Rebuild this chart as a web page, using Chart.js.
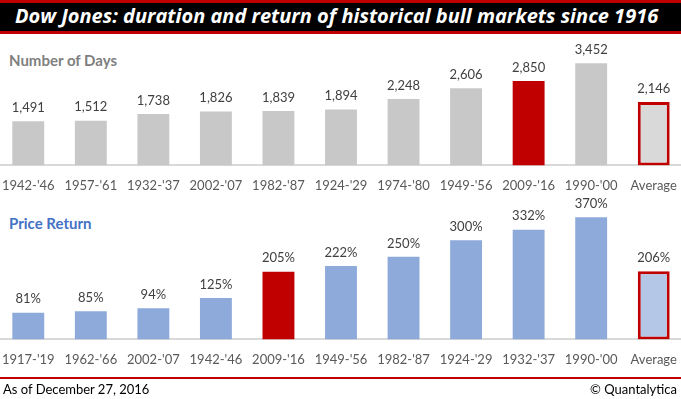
<!DOCTYPE html>
<html>
<head>
<meta charset="utf-8">
<script src="https://cdn.jsdelivr.net/npm/chart.js@4"></script>
<style>
  html, body { margin: 0; padding: 0; width: 681px; height: 399px; overflow: hidden; background: #fff; font-family: Lato, sans-serif; }
  .title-bar { position: absolute; left: 0; top: 0; width: 681px; height: 28px; background: #000; border-top: 3px solid #c00000; border-bottom: 3px solid #c00000; }
  .title-bar span { position: absolute; left: 15px; top: -1px; color: #fff; font: italic bold 20px 'Open Sans', sans-serif; white-space: nowrap; }
  .section { position: absolute; left: 9px; font: bold 15px Lato, sans-serif; }
  .chart-box { position: absolute; left: -3px; width: 688px; }
  .footer-line { position: absolute; left: 0; top: 377px; width: 681px; height: 2px; background: #c00000; }
  .footer { position: absolute; top: 381px; font: 13px Lato, sans-serif; color: #000; }
</style>
</head>
<body>
<div class="title-bar"><span>Dow Jones: duration and return of historical bull markets since 1916</span></div>
<div class="section" style="top:51px;color:#808080">Number of Days</div>
<div class="section" style="top:214px;color:#4472c4">Price Return</div>
<div class="chart-box" style="top:20px;height:174px"><canvas id="daysChart"></canvas></div>
<div class="chart-box" style="top:184px;height:184px"><canvas id="returnChart"></canvas></div>
<div class="footer-line"></div>
<div class="footer" style="left:3px">As of December 27, 2016</div>
<div class="footer" style="right:4px">© Quantalytica</div>
<script>
// Dow Jones bull markets — duration (days) and price return (%)

const DAYS_LABELS = ["1942-'46", "1957-'61", "1932-'37", "2002-'07", "1982-'87", "1924-'29", "1974-'80", "1949-'56", "2009-'16", "1990-'00", 'Average'];
const DAYS_VALUES = [1491, 1512, 1738, 1826, 1839, 1894, 2248, 2606, 2850, 3452, 2146];

const RETURN_LABELS = ["1917-'19", "1962-'66", "2002-'07", "1942-'46", "2009-'16", "1949-'56", "1982-'87", "1924-'29", "1932-'37", "1990-'00", 'Average'];
const RETURN_VALUES = [81, 85, 94, 125, 205, 222, 250, 300, 332, 370, 206];

const CURRENT = "2009-'16";

const COLORS = {
  gray: '#c8c8c8',
  grayLight: '#d9d9d9',
  blue: '#8eaadb',
  blueLight: '#b4c7e7',
  red: '#c00000',
  axis: '#d9d9d9',
  tick: '#595959',
  value: '#404040',
};

// draws the value above each bar, using the bar element positions
const valueLabels = {
  id: 'valueLabels',
  afterDatasetsDraw(chart, args, opts) {
    const ctx = chart.ctx;
    const meta = chart.getDatasetMeta(0);
    ctx.save();
    ctx.font = '13px Lato, sans-serif';
    ctx.fillStyle = COLORS.value;
    ctx.textAlign = 'center';
    ctx.textBaseline = 'bottom';
    meta.data.forEach((bar, i) => {
      ctx.fillText(opts.format(chart.data.datasets[0].data[i]), bar.x, bar.y - 7);
    });
    ctx.restore();
  },
};

function makeChart(id, labels, values, base, light, yMax, format) {
  const isAvg = labels.map(l => l === 'Average');
  return new Chart(document.getElementById(id), {
    type: 'bar',
    data: {
      labels,
      datasets: [{
        data: values,
        backgroundColor: labels.map((l, i) => l === CURRENT ? COLORS.red : isAvg[i] ? light : base),
        borderColor: COLORS.red,
        borderWidth: isAvg.map(a => a ? 3 : 0),
        borderSkipped: false,
        barPercentage: 0.51,
        categoryPercentage: 1,
      }],
    },
    options: {
      responsive: true,
      maintainAspectRatio: false,
      animation: false,
      layout: { padding: { top: 16, left: 0, right: 0, bottom: 0 } },
      plugins: {
        legend: { display: false },
        tooltip: { enabled: false },
        valueLabels: { format },
      },
      scales: {
        x: {
          // tick marks hidden but their length spaces the labels off the axis
          grid: { display: false, drawTicks: true, tickLength: 13 },
          border: { display: true, color: COLORS.axis, width: 2 },
          ticks: { color: COLORS.tick, font: { family: 'Lato, sans-serif', size: 13 }, padding: 0, maxRotation: 0, autoSkip: false },
        },
        y: { display: false, min: 0, max: yMax },
      },
    },
    plugins: [valueLabels],
  });
}

makeChart('daysChart', DAYS_LABELS, DAYS_VALUES, COLORS.gray, COLORS.grayLight, 4375, v => v.toLocaleString('en-US'));
makeChart('returnChart', RETURN_LABELS, RETURN_VALUES, COLORS.blue, COLORS.blueLight, 422, v => v + '%');
</script>
</body>
</html>
